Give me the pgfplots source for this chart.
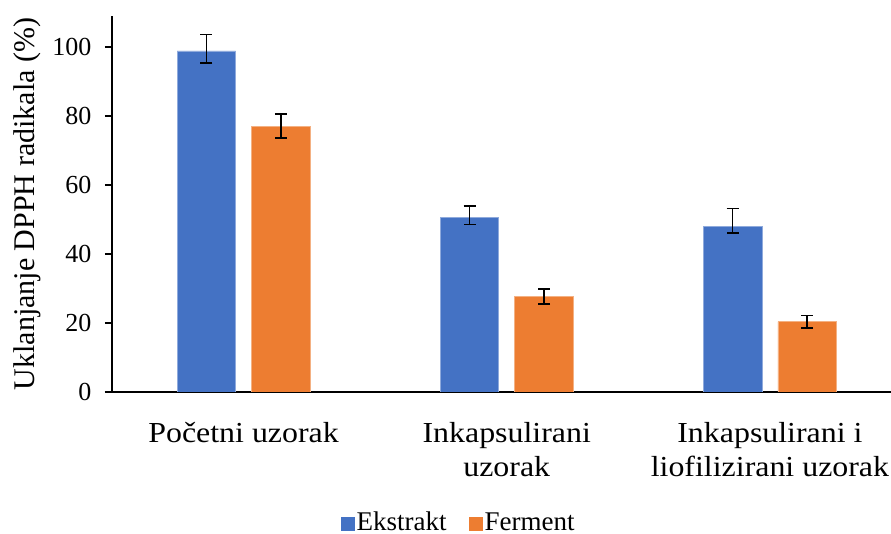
\documentclass[border=0pt]{standalone}
\usepackage{pgfplots}
\pgfplotsset{compat=1.18}
\usepackage{pgfplotstable}
\usepackage{fontspec}
\setmainfont{Liberation Serif}
\newfontfamily\catfont[FakeStretch=1.1]{Liberation Serif}
\definecolor{exblue}{HTML}{4472C4}
\definecolor{feorange}{HTML}{ED7D31}
\pgfplotstableread{
x y ep em
0 98.9 4.7 3.5
1 50.6 3.3 2.1
2 47.9 5.3 1.8
}\ekstrakt
\pgfplotstableread{
x y ep em
0 77.0 3.6 3.4
1 27.6 2.3 2.1
2 20.4 1.8 1.8
}\ferment
\begin{document}
\begin{tikzpicture}
\begin{axis}[name=ax, scale only axis, width=779pt, height=376pt,
  ybar=16pt, bar width=58.5pt,
  xmin=-0.5, xmax=2.46, ymin=0, ymax=109,
  axis x line=bottom, axis y line=left,
  axis line style={-, line width=1.5pt, black},
  x axis line style={shorten <=-7pt},
  xtick=data,
  xticklabels={Početni uzorak, {Inkapsulirani\\uzorak}, {Inkapsulirani i\\liofilizirani uzorak}},
  x tick style={draw=none},
  ytick={0,20,...,100},
  y tick style={line width=1.5pt, black},
  tick align=outside, major tick length=7pt,
  /pgf/number format/assume math mode=true,
  yticklabel style={font=\fontsize{26}{30}\selectfont},
  yticklabel shift=10pt,
  xticklabel style={font=\catfont\fontsize{29}{34}\selectfont, align=center, yshift=-20pt},
  ylabel={Uklanjanje DPPH radikala (\%)},
  ylabel style={font=\fontsize{30}{34}\selectfont, at={(axis description cs:0,0.5)}, anchor=center, yshift=85pt},
  legend style={at={(axis description cs:0.445,-0.346)}, anchor=center, draw=none,
    legend columns=-1, font=\fontsize{27}{30}\selectfont,
    /tikz/every even column/.append style={column sep=20pt}},
  legend image code/.code={\fill[#1,draw=none] (0pt,-8.5pt) rectangle (14pt,5.5pt);},
]
\addplot[fill=exblue, draw=exblue!60!white, line width=0.6pt,
  error bars/.cd, y dir=both, y explicit,
  error bar style={line width=1.5pt, black},
  error mark options={rotate=90, mark size=6pt, line width=1.5pt, black}]
  table[x=x, y=y, y error plus=ep, y error minus=em]{\ekstrakt};
\addplot[fill=feorange, draw=feorange!60!white, line width=0.6pt,
  error bars/.cd, y dir=both, y explicit,
  error bar style={line width=1.5pt, black},
  error mark options={rotate=90, mark size=6pt, line width=1.5pt, black}]
  table[x=x, y=y, y error plus=ep, y error minus=em]{\ferment};
\legend{Ekstrakt, Ferment}
\end{axis}
\pgfresetboundingbox
\path[use as bounding box] (ax.south west) ++(-112pt,-142pt) rectangle ++(891pt,534pt);
\end{tikzpicture}
\end{document}
